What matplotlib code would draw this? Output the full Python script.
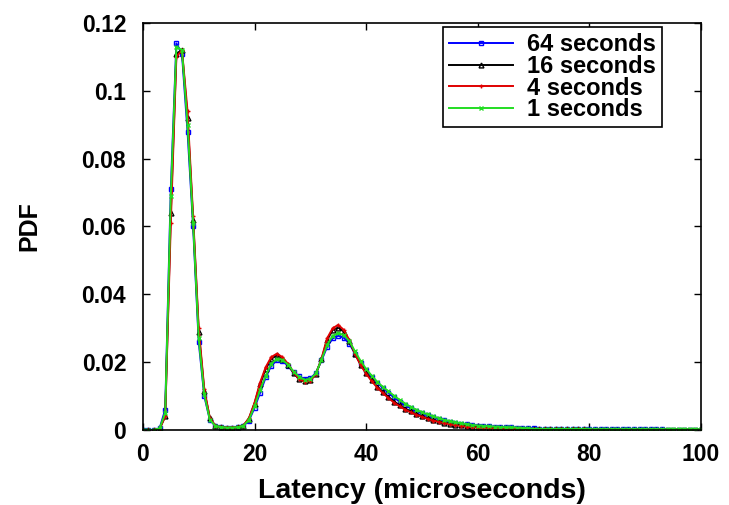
import matplotlib
matplotlib.use("Agg")
import matplotlib.pyplot as plt
import numpy as np
from matplotlib.ticker import FuncFormatter

plt.rcParams['font.family'] = ['Liberation Sans', 'DejaVu Sans']
plt.rcParams['font.weight'] = 'bold'

# latency bins (microseconds)
latency = np.arange(0, 101)

# PDF values, 0..100 us
tail_64 = [0.0005, 0.0004, 0.0003, 0.0003, 0.0002, 0.0002, 0.0002, 0.0002, 0.0002, 0.0002,
           0.0002, 0.0002, 0.0002, 0.0002, 0.0002, 0.0002, 0.0002, 0.0002, 0.0002, 0.0002,
           0.0002, 0.0002, 0.0002, 0.0002, 0.0001, 0.0001, 0.0001, 0.0001, 0.0001, 0.0001, 0.0001]
pdf_64 = [0, 0, 0, 0.0005, 0.006, 0.071, 0.114, 0.111, 0.088, 0.060,
          0.026, 0.010, 0.003, 0.0012, 0.0008, 0.0007, 0.0007, 0.0008, 0.0012, 0.0028,
          0.0065, 0.011, 0.0155, 0.019, 0.0205, 0.0203, 0.019, 0.017, 0.0158, 0.015,
          0.0152, 0.0168, 0.0205, 0.0245, 0.027, 0.0278, 0.0272, 0.0255, 0.0225, 0.0198,
          0.0176, 0.0157, 0.014, 0.0124, 0.011, 0.0096, 0.0084, 0.0074, 0.0064, 0.0056,
          0.0049, 0.0043, 0.0038, 0.0033, 0.0029, 0.0025, 0.0022, 0.0019, 0.0017, 0.0015,
          0.0013, 0.0012, 0.0011, 0.001, 0.0009, 0.0008, 0.0008, 0.0007, 0.0007, 0.0006] + tail_64
pdf_16 = [0, 0, 0, 0.0004, 0.004, 0.064, 0.111, 0.112, 0.092, 0.062,
          0.029, 0.0115, 0.0035, 0.0012, 0.0008, 0.0007, 0.0007, 0.0008, 0.0013, 0.0033,
          0.0078, 0.0135, 0.018, 0.021, 0.022, 0.021, 0.0192, 0.0168, 0.015, 0.0144,
          0.0147, 0.0166, 0.0208, 0.0265, 0.0295, 0.0302, 0.029, 0.0262, 0.0225, 0.0193,
          0.0168, 0.0147, 0.0128, 0.0112, 0.0097, 0.0084, 0.0073, 0.0063, 0.0055, 0.0047,
          0.0041, 0.0035, 0.003, 0.0026, 0.0022, 0.0019, 0.0016, 0.0014, 0.0012, 0.001,
          0.0009, 0.0008, 0.0007, 0.0006, 0.0005, 0.0005, 0.0004, 0.0004, 0.0003, 0.0003] + [0.0002] * 10 + [0.0001] * 21
pdf_4 = [0, 0, 0, 0.0004, 0.004, 0.061, 0.110, 0.112, 0.094, 0.063,
         0.030, 0.012, 0.0035, 0.0012, 0.0008, 0.0007, 0.0007, 0.0008, 0.0013, 0.0035,
         0.008, 0.014, 0.0185, 0.0215, 0.0225, 0.0215, 0.0195, 0.017, 0.015, 0.0142,
         0.0145, 0.0165, 0.021, 0.027, 0.030, 0.031, 0.0295, 0.0265, 0.0225, 0.0192,
         0.0166, 0.0144, 0.0125, 0.0109, 0.0094, 0.0081, 0.007, 0.006, 0.0052, 0.0045,
         0.0039, 0.0033, 0.0028, 0.0024, 0.002, 0.0017, 0.0014, 0.0012, 0.001, 0.0008,
         0.0007, 0.0006, 0.0005, 0.0005, 0.0004, 0.0004, 0.0003, 0.0003, 0.0003, 0.0002] + [0.0002] * 10 + [0.0001] * 21
pdf_1 = [0, 0, 0, 0.0005, 0.005, 0.069, 0.113, 0.112, 0.090, 0.061,
         0.027, 0.0105, 0.003, 0.0012, 0.0008, 0.0007, 0.0007, 0.0008, 0.0012, 0.003,
         0.007, 0.0118, 0.016, 0.0195, 0.021, 0.0207, 0.0193, 0.0172, 0.0157, 0.0148,
         0.015, 0.0167, 0.0207, 0.025, 0.0278, 0.0286, 0.028, 0.0262, 0.0232, 0.0204,
         0.018, 0.016, 0.0142, 0.0127, 0.0114, 0.0101, 0.0089, 0.0078, 0.0068, 0.006,
         0.0052, 0.0046, 0.004, 0.0035, 0.003, 0.0026, 0.0023, 0.002, 0.0017, 0.0015,
         0.0013, 0.0012, 0.0011, 0.001, 0.0009, 0.0008, 0.0008, 0.0007, 0.0006, 0.0005] + [0.0003] * 10 + [0.0002] * 21

series = [
    ("64 seconds", pdf_64, "#0000ff", "s"),
    ("16 seconds", pdf_16, "#000000", "^"),
    ("4 seconds", pdf_4, "#e00000", "+"),
    ("1 seconds", pdf_1, "#22dd22", "x"),
]

fig = plt.figure(figsize=(7.29, 5.05), dpi=100)
ax = fig.add_axes([0.196, 0.1485, 0.7656, 0.806])

for name, vals, col, mk in series:
    ax.plot(latency, vals, color=col, marker=mk, markersize=3.5, markerfacecolor='none',
            markeredgewidth=1.0, linewidth=1.4, label=name)

ax.set_xlim(0, 100)
ax.set_ylim(0, 0.12)
ax.set_xticks([0, 20, 40, 60, 80, 100])
ax.set_yticks([0, 0.02, 0.04, 0.06, 0.08, 0.1, 0.12])
ax.yaxis.set_major_formatter(FuncFormatter(lambda v, p: "%g" % round(v, 4)))
ax.tick_params(direction='in', top=True, right=True, length=5, width=1,
               labelsize=16.5)
ax.tick_params(axis='y', pad=12)
ax.tick_params(axis='x', pad=9)
for lab in ax.get_xticklabels() + ax.get_yticklabels():
    lab.set_fontweight('bold')
for sp in ax.spines.values():
    sp.set_linewidth(1.2)

ax.set_xlabel("Latency (microseconds)", fontsize=20.5, fontweight='bold', labelpad=9)
ax.set_ylabel("PDF", fontsize=18, fontweight='bold', labelpad=29)

leg = ax.legend(loc='upper right', bbox_to_anchor=(0.930, 0.990), borderaxespad=0,
                fancybox=False, edgecolor='black', framealpha=1,
                prop={'size': 17, 'weight': 'bold'}, handlelength=2.7,
                labelspacing=-0.05, borderpad=0.25, handletextpad=0.6)
leg.get_frame().set_linewidth(1.2)

fig.savefig("out.png", dpi=100)
